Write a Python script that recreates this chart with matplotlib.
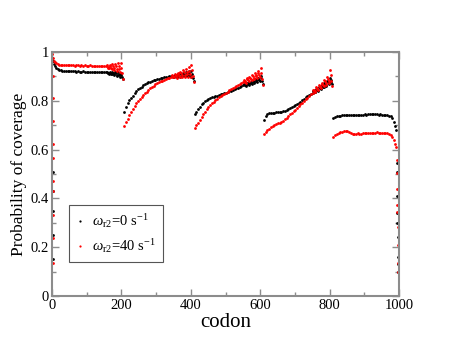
import matplotlib
matplotlib.use("Agg")
import matplotlib.pyplot as plt
from matplotlib.ticker import MultipleLocator

# ---------------- data ----------------
# black series: omega_r2 = 0 s^-1
black_codons = ([1, 3, 5, 8, 12, 16, 20] + list(range(25, 156, 5)) + list(range(158, 205, 2))
                + list(range(208, 344, 5)) + list(range(346, 409, 2))
                + list(range(411, 552, 5)) + list(range(553, 608, 2))
                + list(range(611, 752, 5)) + list(range(753, 808, 2))
                + list(range(811, 987, 5)) + [989, 991])
black_values = [
    # segment 1
    0.975, 0.962, 0.951, 0.942, 0.935, 0.930, 0.927,
    0.925, 0.924, 0.923, 0.923, 0.922, 0.922, 0.921, 0.922, 0.921, 0.920, 0.921, 0.920, 0.920, 0.921,
    0.920, 0.919, 0.920, 0.919, 0.919, 0.918, 0.919, 0.918, 0.918, 0.917, 0.918, 0.917, 0.916,
    0.918, 0.915, 0.913, 0.911, 0.919, 0.915, 0.911, 0.908, 0.918, 0.913, 0.909, 0.905,
    0.918, 0.912, 0.907, 0.902, 0.917, 0.911, 0.905, 0.899, 0.915, 0.907, 0.899, 0.890,
    # segment 2
    0.755, 0.775, 0.790, 0.803, 0.812, 0.820, 0.830, 0.840, 0.847, 0.853, 0.858, 0.863, 0.868, 0.872,
    0.876, 0.879, 0.882, 0.885, 0.887, 0.889, 0.891, 0.893, 0.895, 0.896, 0.898, 0.899, 0.901, 0.902,
    0.903, 0.901, 0.899, 0.897, 0.906, 0.903, 0.900, 0.898, 0.909, 0.905, 0.902, 0.899,
    0.912, 0.908, 0.904, 0.900, 0.915, 0.910, 0.905, 0.900, 0.918, 0.912, 0.906, 0.900,
    0.921, 0.913, 0.905, 0.897, 0.922, 0.908, 0.893, 0.880,
    # segment 3
    0.745, 0.755, 0.765, 0.776, 0.785, 0.792, 0.798, 0.803, 0.807, 0.810, 0.814, 0.817, 0.819, 0.821,
    0.824, 0.826, 0.828, 0.830, 0.833, 0.836, 0.839, 0.842, 0.845, 0.848, 0.851, 0.854, 0.857, 0.860, 0.863,
    0.868, 0.866, 0.864, 0.862, 0.873, 0.870, 0.868, 0.866, 0.878, 0.875, 0.872, 0.870,
    0.883, 0.880, 0.877, 0.874, 0.888, 0.884, 0.881, 0.878, 0.894, 0.890, 0.885, 0.880,
    0.902, 0.893, 0.880, 0.868,
    # segment 4
    0.722, 0.738, 0.746, 0.750, 0.751, 0.752, 0.752, 0.753, 0.754, 0.754, 0.756, 0.758, 0.760, 0.762,
    0.766, 0.770, 0.775, 0.779, 0.784, 0.788, 0.793, 0.797, 0.803, 0.808, 0.814, 0.819, 0.824, 0.829, 0.834,
    0.840, 0.838, 0.837, 0.835, 0.848, 0.846, 0.844, 0.842, 0.856, 0.854, 0.851, 0.849,
    0.864, 0.861, 0.858, 0.856, 0.872, 0.869, 0.865, 0.862, 0.882, 0.877, 0.872, 0.868,
    0.893, 0.886, 0.878, 0.870,
    # segment 5
    0.728, 0.735, 0.737, 0.738, 0.739, 0.740, 0.740, 0.741, 0.741, 0.742, 0.741, 0.742, 0.742, 0.743,
    0.742, 0.743, 0.742, 0.743, 0.744, 0.743, 0.744, 0.745, 0.745, 0.744, 0.745, 0.744, 0.743, 0.744,
    0.743, 0.742, 0.742, 0.741, 0.739, 0.736, 0.730, 0.715, 0.695, 0.680,
]
# scattered end points of the black series
black_edge_codons = [2, 2, 2, 2, 2, 994, 994, 995, 995, 995, 996, 996, 996, 997]
black_edge_values = [0.51, 0.43, 0.35, 0.25, 0.15, 0.545, 0.51, 0.41, 0.34, 0.30, 0.24, 0.16, 0.13, 0.10]

# red series: omega_r2 = 40 s^-1
red_codons = black_codons
red_values = [
    # segment 1
    0.990, 0.975, 0.965, 0.958, 0.953, 0.950, 0.948,
    0.947, 0.946, 0.947, 0.945, 0.946, 0.946, 0.945, 0.946, 0.944, 0.945, 0.946, 0.944, 0.945, 0.944,
    0.945, 0.943, 0.944, 0.945, 0.943, 0.944, 0.943, 0.944, 0.942, 0.943, 0.944, 0.942, 0.943,
    0.945, 0.940, 0.936, 0.933, 0.948, 0.941, 0.935, 0.930, 0.950, 0.942, 0.934, 0.927,
    0.952, 0.942, 0.932, 0.924, 0.953, 0.941, 0.930, 0.920, 0.954, 0.935, 0.912, 0.890,
    # segment 2
    0.697, 0.712, 0.727, 0.742, 0.755, 0.768, 0.779, 0.789, 0.798, 0.807, 0.815, 0.823, 0.831, 0.838,
    0.845, 0.851, 0.857, 0.862, 0.867, 0.872, 0.876, 0.880, 0.883, 0.886, 0.889, 0.892, 0.894, 0.897,
    0.905, 0.902, 0.899, 0.896, 0.910, 0.905, 0.900, 0.895, 0.915, 0.909, 0.903, 0.897,
    0.920, 0.913, 0.905, 0.898, 0.925, 0.916, 0.907, 0.898, 0.930, 0.920, 0.909, 0.898,
    0.937, 0.924, 0.910, 0.896, 0.945, 0.925, 0.900, 0.877,
    # segment 3
    0.688, 0.700, 0.711, 0.722, 0.733, 0.744, 0.755, 0.765, 0.775, 0.783, 0.790, 0.797, 0.803, 0.809,
    0.815, 0.820, 0.825, 0.829, 0.833, 0.838, 0.843, 0.847, 0.852, 0.856, 0.861, 0.865, 0.869, 0.873, 0.877,
    0.885, 0.882, 0.878, 0.875, 0.892, 0.888, 0.884, 0.880, 0.899, 0.894, 0.889, 0.885,
    0.906, 0.900, 0.895, 0.890, 0.913, 0.907, 0.901, 0.895, 0.922, 0.914, 0.906, 0.898,
    0.936, 0.915, 0.890, 0.865,
    # segment 4
    0.665, 0.672, 0.680, 0.686, 0.692, 0.696, 0.700, 0.704, 0.707, 0.711, 0.714, 0.719, 0.724, 0.730,
    0.737, 0.744, 0.751, 0.757, 0.764, 0.771, 0.778, 0.785, 0.792, 0.799, 0.806, 0.813, 0.820, 0.827, 0.834,
    0.845, 0.843, 0.840, 0.838, 0.855, 0.851, 0.848, 0.845, 0.865, 0.861, 0.856, 0.852,
    0.875, 0.870, 0.865, 0.860, 0.886, 0.880, 0.873, 0.866, 0.898, 0.890, 0.881, 0.872,
    0.925, 0.904, 0.883, 0.862,
    # segment 5
    0.652, 0.660, 0.665, 0.669, 0.672, 0.674, 0.675, 0.676, 0.675, 0.672, 0.668, 0.665, 0.664, 0.665,
    0.666, 0.664, 0.665, 0.667, 0.668, 0.667, 0.669, 0.668, 0.667, 0.669, 0.670, 0.671, 0.670, 0.669,
    0.670, 0.669, 0.668, 0.668, 0.665, 0.660, 0.652, 0.640, 0.625, 0.612,
]
red_edge_codons = [2, 2, 2, 2, 2, 2, 2, 2, 2, 2, 993, 994, 994, 995, 995, 996, 996, 997, 997]
red_edge_values = [0.90, 0.81, 0.717, 0.624, 0.564, 0.47, 0.432, 0.332, 0.236, 0.134,
                   0.557, 0.503, 0.438, 0.373, 0.345, 0.283, 0.209, 0.135, 0.10]

series_labels = [r"$\omega_{\rm r2}$=0 s$^{-1}$", r"$\omega_{\rm r2}$=40 s$^{-1}$"]
x_label = "codon"
y_label = "Probability of coverage"

# ---------------- drawing ----------------
plt.rcParams["font.family"] = ["Liberation Serif", "DejaVu Serif"]
plt.rcParams["mathtext.fontset"] = "custom"
plt.rcParams["mathtext.rm"] = "Liberation Serif"
plt.rcParams["mathtext.it"] = "Liberation Serif:italic"

fig = plt.figure(figsize=(4.49, 3.47), dpi=100)
ax = fig.add_axes([52 / 449, 1 - 296 / 347, 347 / 449, 244 / 347])

ms = 2.0
ax.plot(black_codons, black_values, "o", color="black", ms=ms, mew=0, label=series_labels[0])
ax.plot(black_edge_codons, black_edge_values, "o", color="black", ms=ms, mew=0)
ax.plot(red_codons, red_values, "o", color="red", ms=ms, mew=0, label=series_labels[1])
ax.plot(red_edge_codons, red_edge_values, "o", color="red", ms=ms, mew=0)

ax.set_xlim(0, 1000)
ax.set_ylim(0, 1)
ax.xaxis.set_major_locator(MultipleLocator(200))
ax.xaxis.set_minor_locator(MultipleLocator(100))
ax.yaxis.set_major_locator(MultipleLocator(0.2))
ax.yaxis.set_minor_locator(MultipleLocator(0.1))
ax.xaxis.set_major_formatter(plt.FuncFormatter(lambda v, p: f"{v:g}"))
ax.yaxis.set_major_formatter(plt.FuncFormatter(lambda v, p: f"{v:g}"))

gray = "#8c8c8c"
for s in ax.spines.values():
    s.set_color(gray)
    s.set_linewidth(1.5)
ax.tick_params(which="both", direction="in", top=True, right=True, color=gray,
               labelsize=10.5, pad=2)
ax.tick_params(which="major", length=5, width=1)
ax.tick_params(which="minor", length=3, width=1)

ax.set_xlabel(x_label, fontsize=15, labelpad=1)
ax.set_ylabel(y_label, fontsize=12.5, labelpad=3)

leg = ax.legend(loc="lower left", bbox_to_anchor=(0.049, 0.139), borderaxespad=0,
                fontsize=10.5, markerscale=0.8, handlelength=0.5, handletextpad=0.6,
                borderpad=0.5, labelspacing=0.45, fancybox=False, framealpha=1,
                edgecolor="#555555")
leg.get_frame().set_linewidth(0.8)

fig.savefig("out.png", dpi=100)
